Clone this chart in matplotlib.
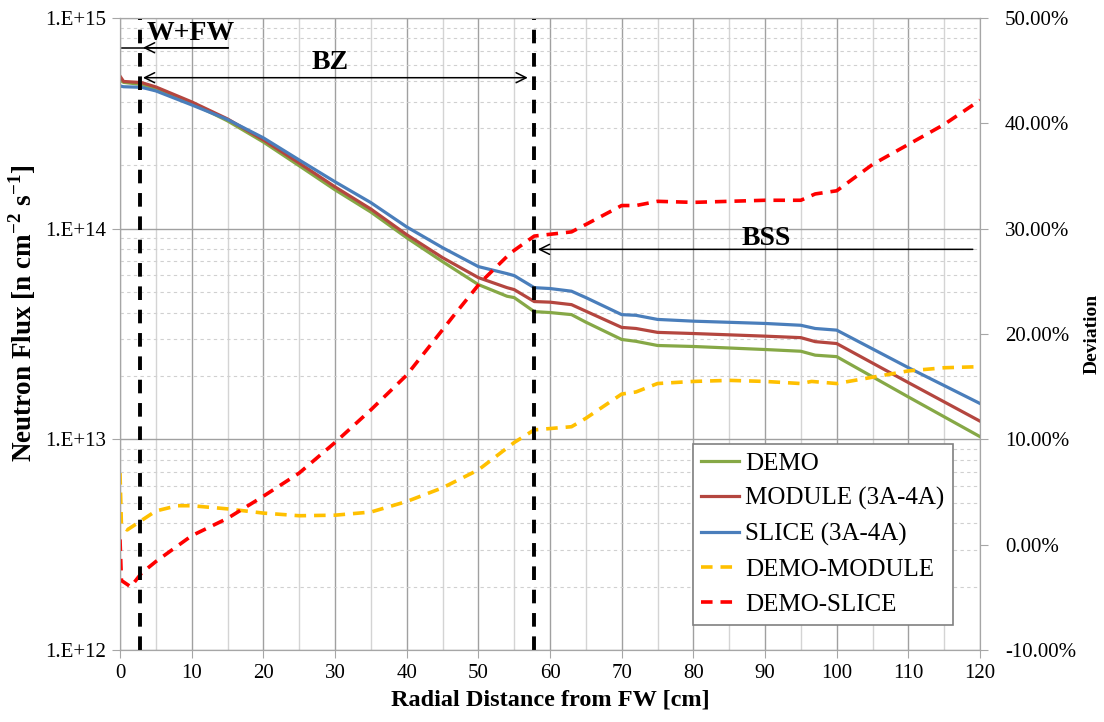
import numpy as np
import matplotlib
matplotlib.use('Agg')
import matplotlib.pyplot as plt
from matplotlib.ticker import FixedLocator, FuncFormatter, NullFormatter

plt.rcParams['font.family'] = ['Liberation Serif', 'DejaVu Serif']
plt.rcParams['mathtext.fontset'] = 'custom'
plt.rcParams['mathtext.rm'] = 'Liberation Serif'
plt.rcParams['mathtext.bf'] = 'Liberation Serif:bold'

# Neutron flux profiles [n cm-2 s-1] along the radial distance [cm]
x_flux = [0, 0.5, 3, 5, 10, 15, 20, 25, 30, 35, 40, 45, 50, 54, 55, 57.8, 60,
          63, 65, 70, 72, 75, 80, 90, 95, 97, 100, 110, 120]
flux_demo = [5.08e14, 4.95e14, 4.84e14, 4.62e14, 3.95e14, 3.25e14, 2.58e14,
             1.99e14, 1.53e14, 1.20e14, 9.06e13, 6.98e13, 5.43e13, 4.78e13,
             4.71e13, 4.04e13, 4.00e13, 3.91e13, 3.60e13, 2.98e13, 2.92e13,
             2.79e13, 2.76e13, 2.67e13, 2.62e13, 2.51e13, 2.47e13, 1.59e13,
             1.03e13]
flux_module = [5.30e14, 5.00e14, 4.94e14, 4.71e14, 4.00e14, 3.32e14, 2.64e14,
               2.05e14, 1.58e14, 1.24e14, 9.37e13, 7.29e13, 5.86e13, 5.25e13,
               5.14e13, 4.51e13, 4.48e13, 4.36e13, 4.06e13, 3.40e13, 3.36e13,
               3.22e13, 3.18e13, 3.09e13, 3.04e13, 2.91e13, 2.85e13, 1.86e13,
               1.22e13]
flux_slice = [4.76e14, 4.72e14, 4.69e14, 4.51e14, 3.87e14, 3.30e14, 2.70e14,
              2.12e14, 1.67e14, 1.33e14, 1.02e14, 8.13e13, 6.61e13, 6.12e13,
              5.99e13, 5.25e13, 5.20e13, 5.05e13, 4.71e13, 3.91e13, 3.88e13,
              3.71e13, 3.64e13, 3.55e13, 3.48e13, 3.36e13, 3.30e13, 2.19e13,
              1.48e13]

# Deviations [%]
x_dev_module = [0, 0.2, 1, 3, 5, 8, 10, 15, 17.5, 20, 25, 30, 35, 40, 45, 50,
                55, 57.8, 63, 65, 70, 72, 75, 80, 85, 90, 95, 96.5, 100, 105,
                110, 115, 120]
dev_module = [6.8, 1.8, 1.4, 2.3, 3.2, 3.7, 3.7, 3.4, 3.2, 3.0, 2.75, 2.8, 3.1,
              4.1, 5.4, 7.1, 9.7, 10.9, 11.2, 12.0, 14.3, 14.5, 15.3, 15.5,
              15.6, 15.5, 15.3, 15.5, 15.3, 15.9, 16.5, 16.8, 16.9]
x_dev_slice = [0, 0.2, 1.5, 3, 5, 10, 15, 20, 25, 30, 35, 40, 45, 46.5, 50.3,
               54.5, 57.8, 63, 65, 70, 72, 75, 80, 85, 90, 95, 97, 100, 105,
               110, 115, 120]
dev_slice = [0.5, -3.4, -4.0, -2.7, -1.6, 0.85, 2.5, 4.6, 6.8, 9.7, 12.8, 16.1,
             20.4, 21.7, 24.9, 27.7, 29.3, 29.7, 30.4, 32.2, 32.2, 32.6, 32.5,
             32.6, 32.7, 32.7, 33.3, 33.6, 36.1, 38.0, 39.9, 42.2]

# Zone boundaries [cm]
x_fw = 2.8
x_bz = 57.8

fig = plt.figure(figsize=(11.04, 7.22), dpi=100)
ax = fig.add_axes([0.1087, 0.0997, 0.779, 0.8753])
ax2 = ax.twinx()

c_grid = '#a6a6a6'
ax.set_xlim(0, 120)
ax.set_yscale('log')
ax.set_ylim(1e12, 1e15)
ax.xaxis.set_major_locator(FixedLocator(np.arange(0, 121, 10)))
ax.xaxis.set_minor_locator(FixedLocator(np.arange(5, 120, 10)))
ax.yaxis.set_major_locator(FixedLocator([1e12, 1e13, 1e14, 1e15]))
ax.yaxis.set_minor_locator(FixedLocator(
    [m * 10.0 ** e for e in (12, 13, 14) for m in range(2, 10)]))
ax.yaxis.set_minor_formatter(NullFormatter())
ax.yaxis.set_major_formatter(FuncFormatter(
    lambda v, p: '1.E+%d' % round(np.log10(v))))

ax.set_axisbelow(True)
ax.grid(which='major', axis='x', color='#a0a0a0', lw=1)
ax.grid(which='minor', axis='x', color='#d4d4d4', lw=1)
ax.grid(which='major', axis='y', color='#a0a0a0', lw=1)
ax.grid(which='minor', axis='y', color='#d0d0d0', lw=0.8, ls=(0, (3, 3)))
ax.tick_params(which='major', direction='out', length=6, color=c_grid,
               labelsize=15, pad=4)
ax.tick_params(which='minor', length=0)
for sp in list(ax.spines.values()) + list(ax2.spines.values()):
    sp.set_color(c_grid)

ax.plot(x_flux, flux_demo, color='#86a846', lw=2.3, label='DEMO')
ax.plot(x_flux, flux_module, color='#b4463f', lw=2.3, label='MODULE (3A-4A)')
ax.plot(x_flux, flux_slice, color='#4a7ebb', lw=2.3, label='SLICE (3A-4A)')

ax2.set_ylim(-10, 50)
ax2.yaxis.set_major_locator(FixedLocator(np.arange(-10, 51, 10)))
ax2.yaxis.set_major_formatter(FuncFormatter(lambda v, p: '%.2f%%' % v))
ax2.tick_params(direction='out', length=6, color=c_grid, labelsize=15,
                pad=12)
ax2.plot(x_dev_module, dev_module, color='#ffc000', lw=2.6, ls=(0, (3.2, 2.2)),
         label='DEMO-MODULE')
ax2.plot(x_dev_slice, dev_slice, color='#ff0000', lw=2.6, ls=(0, (3.2, 2.2)),
         label='DEMO-SLICE')

# Zone boundaries and labels
for xb in (x_fw, x_bz):
    ax2.axvline(xb, color='black', lw=2.8, ls=(0, (3.5, 2.5)))

tr = ax2.get_xaxis_transform()
arrow_kw = dict(arrowstyle='->', color='black', lw=1.1,
                mutation_scale=18, shrinkA=0, shrinkB=0)
ax2.plot([0.28, 15.1], [0.953, 0.953], color='black', lw=1.1, transform=tr)
ax2.annotate('', xy=(3.2, 0.953), xytext=(15.1, 0.953), xycoords=tr,
             textcoords=tr, arrowprops=arrow_kw)
ax2.text(9.8, 0.976, 'W+FW', transform=tr, ha='center', va='center',
         fontsize=20, fontweight='bold')

bz_kw = dict(arrow_kw, arrowstyle='<->')
ax2.annotate('', xy=(3.2, 0.9056), xytext=(56.9, 0.9056), xycoords=tr,
             textcoords=tr, arrowprops=bz_kw)
ax2.text(29.3, 0.930, 'BZ', transform=tr, ha='center', va='center',
         fontsize=20, fontweight='bold')

ax2.annotate('', xy=(58.3, 0.634), xytext=(119, 0.634), xycoords=tr,
             textcoords=tr, arrowprops=arrow_kw)
ax2.text(90.1, 0.651, 'BSS', transform=tr, ha='center', va='center',
         fontsize=20, fontweight='bold')

ax.set_xlabel('Radial Distance from FW [cm]', fontsize=17.5,
              fontweight='bold', labelpad=5)
ax.set_ylabel(r'Neutron Flux [n cm$^{\mathbf{-2}}$ s$^{\mathbf{-1}}$]',
              fontsize=19.5, fontweight='bold', va='center')
ax.yaxis.set_label_coords(-0.114, 0.533)
ax2.set_ylabel('Deviation', fontsize=14, fontweight='bold', va='center')
ax2.yaxis.set_label_coords(1.130, 0.5)

h1, l1 = ax.get_legend_handles_labels()
h2, l2 = ax2.get_legend_handles_labels()
leg = ax2.legend(h1 + h2, l1 + l2, loc='lower right',
                 bbox_to_anchor=(0.9686, 0.040), fontsize=18,
                 fancybox=False, framealpha=1, edgecolor='#808080',
                 handlelength=1.5, handletextpad=0.25, labelspacing=0.5,
                 borderpad=0.35, borderaxespad=0)
leg.get_frame().set_linewidth(1.2)

fig.savefig('out.png', dpi=100)
